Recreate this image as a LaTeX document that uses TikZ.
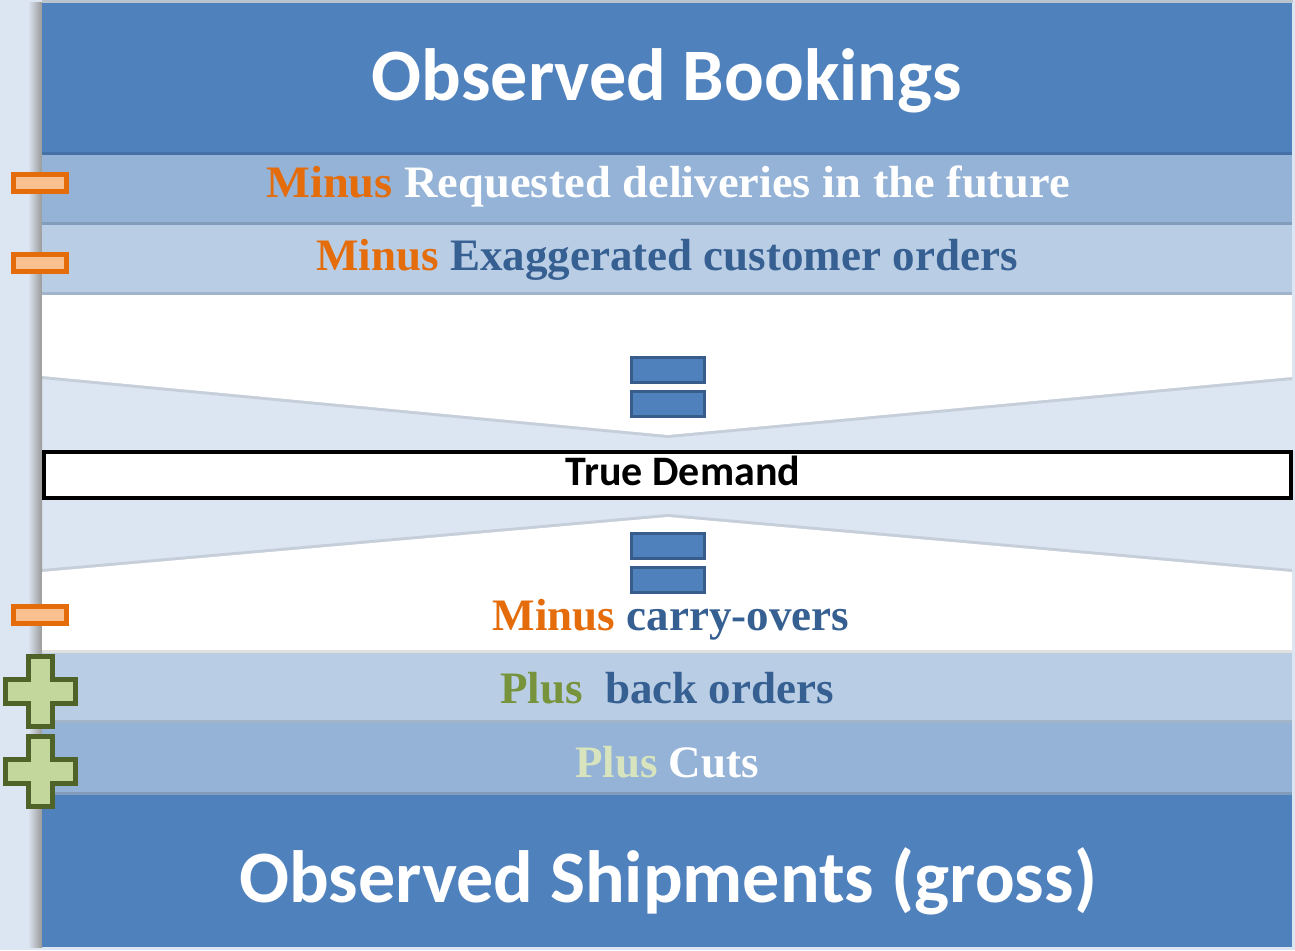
\documentclass[tikz,border=0pt]{standalone}
\usepackage{fontspec}
\setmainfont{Liberation Serif}
\newfontfamily\calib{Carlito}
\definecolor{bg}{HTML}{DCE6F2}
\definecolor{dk}{HTML}{4F81BD}
\definecolor{md}{HTML}{95B3D7}
\definecolor{lt}{HTML}{B9CDE5}
\definecolor{eqb}{HTML}{385D8A}
\definecolor{org}{HTML}{E46C0A}
\definecolor{orgl}{HTML}{FBC08F}
\definecolor{txb}{HTML}{376092}
\definecolor{grn}{HTML}{77933C}
\definecolor{grnl}{HTML}{C3D69B}
\definecolor{grnd}{HTML}{4F6228}
\definecolor{grnt}{HTML}{D7E4BD}
\tikzset{
  band/.style={fill=#1, draw=none},
  shadowline/.style={fill=black, opacity=0.12, draw=none},
  title/.style={font=\calib\bfseries\fontsize{74}{84}\selectfont, text=white, inner sep=0pt, anchor=base},
  rowtext/.style={font=\bfseries\fontsize{45}{50}\selectfont, inner sep=0pt, anchor=base},
  eqbar/.style={fill=dk, draw=eqb, line width=3.5pt},
  minusicon/.style={fill=orgl, draw=org, line width=5pt},
  plusicon/.style={fill=grnl, draw=grnd, line width=5pt, line join=miter},
}
\begin{document}
\begin{tikzpicture}[x=1pt,y=-1pt]
\useasboundingbox (0,0) rectangle (1295,950);
\fill[bg] (0,0) rectangle (1295,950);
% left shadow
\shade[left color=bg, right color=black!40] (28,3) rectangle (42,947);
\fill[black, opacity=0.15] (42,0) rectangle (1293,3);
% bands
\fill[band=dk] (42,3) rectangle (1292,155);
\fill[band=md] (42,155) rectangle (1292,225);
\fill[band=lt] (42,225) rectangle (1292,295);
\fill[shadowline] (42,152) rectangle (1292,155);
\fill[shadowline] (42,222) rectangle (1292,225);
\fill[shadowline] (42,292) rectangle (1292,295);
% upper chevron
\fill[black, opacity=0.10] (42,295) -- (1292,295) -- (1292,380) -- (668,438) -- (42,379) -- cycle;
\fill[white] (42,295) -- (1292,295) -- (1292,377) -- (668,435) -- (42,376) -- cycle;
% lower chevron
\fill[black, opacity=0.10] (668,514) -- (1292,569) -- (1292,656) -- (42,656) -- (42,569) -- cycle;
\fill[white] (668,517) -- (1292,572) -- (1292,653) -- (42,653) -- (42,572) -- cycle;
\fill[band=lt] (42,653) rectangle (1292,723);
\fill[band=md] (42,723) rectangle (1292,795);
\fill[band=dk] (42,795) rectangle (1292,947);
\fill[shadowline] (42,720) rectangle (1292,723);
\fill[shadowline] (42,792) rectangle (1292,795);
\fill[shadowline] (42,650) rectangle (1292,653);
% true demand
\node[draw=black, line width=4pt, fill=white, minimum width=1247pt, minimum height=46pt, inner sep=0pt] (td) at (667.5,475) {};
\node[font=\calib\bfseries\fontsize{42}{48}\selectfont, inner sep=0pt, anchor=base] (tdt) at (683,485) {True Demand};
% equal signs
\draw[eqbar] (631.5,357.5) rectangle (704.5,382.5);
\draw[eqbar] (631.5,391.5) rectangle (704.5,416.5);
\draw[eqbar] (631.5,533.5) rectangle (704.5,558.5);
\draw[eqbar] (631.5,567.5) rectangle (704.5,592.5);
% minus icons
\draw[minusicon] (13.5,174.5) rectangle (66.5,191.5);
\draw[minusicon] (13.5,254.5) rectangle (66.5,271.5);
\draw[minusicon] (13.5,606.5) rectangle (66.5,623.5);
% plus icons
\foreach \cy in {691,771}{
  \draw[plusicon] (28,\cy-35) -- (52,\cy-35) -- (52,\cy-12) -- (75,\cy-12) -- (75,\cy+12) -- (52,\cy+12)
    -- (52,\cy+35) -- (28,\cy+35) -- (28,\cy+12) -- (5,\cy+12) -- (5,\cy-12) -- (28,\cy-12) -- cycle;
}
% texts
\node[title] (ob) at (667,100) {Observed Bookings};
\node[title] (os) at (668,902) {Observed Shipments (gross)};
\node[rowtext] (r1) at (668,197) {\scalebox{1.033}[1]{\textcolor{org}{Minus} \textcolor{white}{Requested deliveries in the future}}};
\node[rowtext] (r2) at (667,270) {\textcolor{org}{Minus} \textcolor{txb}{Exaggerated customer orders}};
\node[rowtext] (r3) at (671,630) {\textcolor{org}{Minus} \textcolor{txb}{carry-overs}};
\node[rowtext] (r4) at (667,703) {\textcolor{grn}{Plus}\ \ \textcolor{txb}{back orders}};
\node[rowtext] (r5) at (667,777) {\textcolor{grnt}{Plus} \textcolor{white}{Cuts}};
\end{tikzpicture}
\end{document}
